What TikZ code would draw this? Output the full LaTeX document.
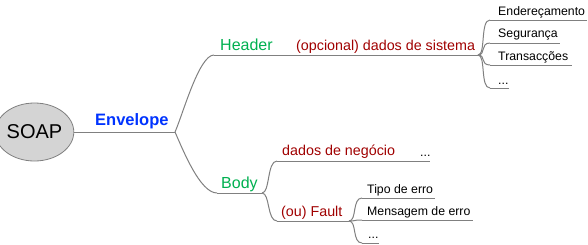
\documentclass[tikz,border=0pt]{standalone}
\usepackage{fontspec}
\setmainfont{Liberation Sans}
\usetikzlibrary{shapes.geometric}
\definecolor{branch}{RGB}{128,128,128}
\definecolor{rootfill}{RGB}{212,212,212}
\definecolor{envblue}{RGB}{0,51,255}
\definecolor{partgreen}{RGB}{0,176,80}
\definecolor{darkred}{RGB}{160,0,0}
\tikzset{
  lbl/.style={inner sep=0pt, anchor=base west},
  envtext/.style={lbl, text=envblue, font=\fontsize{16.5}{18}\selectfont\bfseries},
  parttext/.style={lbl, text=partgreen, font=\fontsize{16}{18}\selectfont},
  redtext/.style={lbl, text=darkred, font=\fontsize{14.3}{16}\selectfont},
  leaftext/.style={lbl, text=black, font=\fontsize{12.3}{14}\selectfont},
  edge/.style={draw=branch, line width=1pt},
}
% helper curves: wide branch for the first level, narrow brace-like for the others
\newcommand{\widebranch}[2]{\draw[edge] (#1) .. controls +(8,-18) and +(-15,0) .. (#2);}
\newcommand{\widebranchdown}[2]{\draw[edge] (#1) .. controls +(8,18) and +(-17,0) .. (#2);}
\newcommand{\bracebranch}[2]{\draw[edge] (#1) .. controls +(8,0) and +(-10,0) .. (#2);}
\begin{document}
\begin{tikzpicture}[x=1pt,y=-1pt]
\useasboundingbox (0,0) rectangle (588,244);

% root
\node[ellipse, draw=branch, fill=rootfill, line width=0.8pt, minimum width=68pt, minimum height=58pt, inner sep=0pt,
      font=\fontsize{20}{22}\selectfont] (soap) at (34.5,132) {SOAP};

% junctions and line ends
\coordinate (envJ) at (175,132);
\coordinate (hdrS) at (214,55);
\coordinate (hdrJ) at (478,55);
\coordinate (bodyS) at (217,193);
\coordinate (bodyJ) at (262,193);
\coordinate (negS) at (277,161);
\coordinate (negE) at (430,161);
\coordinate (fltS) at (277,221);
\coordinate (fltJ) at (349,221);
\coordinate (endS) at (490,20);   \coordinate (endE) at (587,20);
\coordinate (segS) at (490,43);   \coordinate (segE) at (560,43);
\coordinate (traS) at (490,65);   \coordinate (traE) at (572,65);
\coordinate (h4S)  at (490,88);   \coordinate (h4E)  at (509,88);
\coordinate (tipS) at (362,198);  \coordinate (tipE) at (435,198);
\coordinate (menS) at (362,220);  \coordinate (menE) at (473,220);
\coordinate (f3S)  at (362,243);  \coordinate (f3E)  at (379,243);

% connectors
\draw[edge] (soap.east) -- (envJ);
\widebranch{envJ}{hdrS}
\draw[edge] (hdrS) -- (hdrJ);
\widebranchdown{envJ}{bodyS}
\draw[edge] (bodyS) -- (bodyJ);

\bracebranch{hdrJ}{endS} \draw[edge] (endS) -- (endE);
\bracebranch{hdrJ}{segS} \draw[edge] (segS) -- (segE);
\bracebranch{hdrJ}{traS} \draw[edge] (traS) -- (traE);
\bracebranch{hdrJ}{h4S}  \draw[edge] (h4S) -- (h4E);

\bracebranch{bodyJ}{negS} \draw[edge] (negS) -- (negE);
\bracebranch{bodyJ}{fltS} \draw[edge] (fltS) -- (fltJ);

\bracebranch{fltJ}{tipS} \draw[edge] (tipS) -- (tipE);
\bracebranch{fltJ}{menS} \draw[edge] (menS) -- (menE);
\bracebranch{fltJ}{f3S}  \draw[edge] (f3S) -- (f3E);

% labels
\node[envtext] (env) at (95,125) {Envelope};
\node[parttext] (hdr) at (220,50) {Header};
\node[redtext] (opc) at (296,50) {(opcional) dados de sistema};
\node[leaftext] (endr) at (498,15) {Endereçamento};
\node[leaftext] (seg) at (498,37.5) {Segurança};
\node[leaftext] (tra) at (498,60.5) {Transacções};
\node[leaftext] (h4) at (498,84) {...};
\node[parttext] (body) at (221,188.5) {Body};
\node[redtext] (neg) at (282,155.5) {dados de negócio};
\node[leaftext] (negd) at (420,156.5) {...};
\node[redtext] (flt) at (281,216) {(ou) Fault};
\node[leaftext] (tip) at (367,193) {Tipo de erro};
\node[leaftext] (men) at (367,215.5) {Mensagem de erro};
\node[leaftext] (f3) at (368,238.5) {...};
\end{tikzpicture}
\end{document}
